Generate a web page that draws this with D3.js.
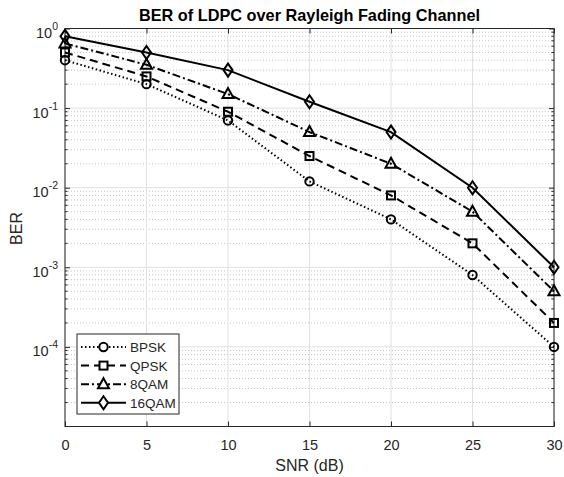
<!DOCTYPE html>
<html><head><meta charset="utf-8">
<script src="https://cdn.jsdelivr.net/npm/d3@7"></script>
<style>body{margin:0;background:#fff}svg{display:block}text{font-family:"Liberation Sans",Arial,Helvetica,sans-serif}</style>
</head><body><svg id="c" width="564" height="477"></svg>
<script>
const snr = [0, 5, 10, 15, 20, 25, 30];
const bpsk = [0.4, 0.2, 0.07, 0.012, 0.004, 0.0008, 0.0001];
const qpsk = [0.5, 0.25, 0.09, 0.025, 0.008, 0.002, 0.0002];
const qam8 = [0.65, 0.35, 0.15, 0.05, 0.02, 0.005, 0.0005];
const qam16 = [0.8, 0.5, 0.3, 0.12, 0.05, 0.01, 0.001];
const seriesNames = ["BPSK", "QPSK", "8QAM", "16QAM"];
const xTicks = [0, 5, 10, 15, 20, 25, 30];
const yTickExps = [0, -1, -2, -3, -4];

const series = [
  {name: seriesNames[0], vals: bpsk, dash: "1.5,2.5", marker: "circle"},
  {name: seriesNames[1], vals: qpsk, dash: "8,5", marker: "square"},
  {name: seriesNames[2], vals: qam8, dash: "8,3,2,3", marker: "triangle"},
  {name: seriesNames[3], vals: qam16, dash: null, marker: "diamond"}
];

const svg = d3.select("#c");
const L = 65, R = 554, T = 28.5, B = 426.5;
const x = d3.scaleLinear().domain([0, 30]).range([L, R]);
const y = d3.scaleLog().domain([1e-5, 1]).range([B, T]);
const axisCol = "#262626";

// minor grid
const minors = [];
for (let e = -5; e < 0; e++) for (let m = 2; m <= 9; m++) minors.push(m * Math.pow(10, e));
svg.append("g").selectAll("line").data(minors).join("line")
  .attr("x1", L).attr("x2", R).attr("y1", d => y(d)).attr("y2", d => y(d))
  .attr("stroke", "#c4c4c4").attr("stroke-width", 1).attr("stroke-dasharray", "1,2");
// major grid
svg.append("g").selectAll("line").data(yTickExps.map(e => Math.pow(10, e)).concat([1e-5])).join("line")
  .attr("x1", L).attr("x2", R).attr("y1", d => y(d)).attr("y2", d => y(d))
  .attr("stroke", "#e0e0e0").attr("stroke-width", 1);
svg.append("g").selectAll("line").data(xTicks).join("line")
  .attr("x1", d => x(d)).attr("x2", d => x(d)).attr("y1", T).attr("y2", B)
  .attr("stroke", "#e0e0e0").attr("stroke-width", 1);

// axes
const xAxis = d3.axisBottom(x).tickValues(xTicks).tickSize(-5).tickPadding(13).tickFormat(d3.format("d"));
const gx = svg.append("g").attr("transform", `translate(0,${B})`).call(xAxis);
gx.select(".domain").remove();
gx.selectAll("line").attr("stroke", axisCol);
gx.selectAll("text").attr("fill", axisCol).attr("font-size", 14.5);
const xAxisTop = d3.axisTop(x).tickValues(xTicks).tickSize(-5).tickFormat("");
const gxt = svg.append("g").attr("transform", `translate(0,${T})`).call(xAxisTop);
gxt.select(".domain").remove(); gxt.selectAll("line").attr("stroke", axisCol);

const yAxis = d3.axisLeft(y).tickValues(yTickExps.map(e => Math.pow(10, e))).tickSize(-5).tickFormat("");
const gy = svg.append("g").attr("transform", `translate(${L},0)`).call(yAxis);
gy.select(".domain").remove(); gy.selectAll("line").attr("stroke", axisCol);
const yAxisR = d3.axisRight(y).tickValues(yTickExps.map(e => Math.pow(10, e))).tickSize(-5).tickFormat("");
const gyr = svg.append("g").attr("transform", `translate(${R},0)`).call(yAxisR);
gyr.select(".domain").remove(); gyr.selectAll("line").attr("stroke", axisCol);
// minor ticks
svg.append("g").selectAll("line").data(minors).join("line")
  .attr("x1", L).attr("x2", L + 2.5).attr("y1", d => y(d)).attr("y2", d => y(d)).attr("stroke", axisCol);
svg.append("g").selectAll("line").data(minors).join("line")
  .attr("x1", R).attr("x2", R - 2.5).attr("y1", d => y(d)).attr("y2", d => y(d)).attr("stroke", axisCol);

// y tick labels with superscripts
const yl = svg.append("g").selectAll("text").data(yTickExps).join("text")
  .attr("x", L - 7).attr("y", d => y(Math.pow(10, d)) + 9.5)
  .attr("text-anchor", "end").attr("fill", axisCol).attr("font-size", 14.5);
yl.append("tspan").text("10");
yl.append("tspan").attr("dy", -8).attr("font-size", 10.5).text(d => String(d));

// box
svg.append("rect").attr("x", L).attr("y", T).attr("width", R - L).attr("height", B - T)
  .attr("fill", "none").attr("stroke", axisCol).attr("stroke-width", 1);

// markers
function drawMarker(g, type, cx, cy) {
  if (type === "circle") g.append("circle").attr("cx", cx).attr("cy", cy).attr("r", 4.2);
  else if (type === "square") g.append("rect").attr("x", cx - 4).attr("y", cy - 4).attr("width", 8).attr("height", 8);
  else if (type === "triangle") g.append("path").attr("d", `M${cx},${cy - 6}L${cx + 5.5},${cy + 4}L${cx - 5.5},${cy + 4}Z`);
  else g.append("path").attr("d", `M${cx},${cy - 6.5}L${cx + 4.5},${cy}L${cx},${cy + 6.5}L${cx - 4.5},${cy}Z`);
}

const line = d3.line().x((d, i) => x(snr[i])).y(d => y(d));
series.forEach(s => {
  svg.append("path").attr("d", line(s.vals)).attr("fill", "none").attr("stroke", "#000")
    .attr("stroke-width", 2).attr("stroke-dasharray", s.dash);
  const mg = svg.append("g").attr("fill", "none").attr("stroke", "#000").attr("stroke-width", 2);
  s.vals.forEach((v, i) => drawMarker(mg, s.marker, x(snr[i]), y(v)));
});

// title & labels
svg.append("text").attr("x", (L + R) / 2).attr("y", 21).attr("text-anchor", "middle")
  .attr("font-size", 16.3).attr("font-weight", "bold").attr("fill", "#000")
  .text("BER of LDPC over Rayleigh Fading Channel");
svg.append("text").attr("x", (L + R) / 2).attr("y", 471).attr("text-anchor", "middle")
  .attr("font-size", 16).attr("fill", axisCol).text("SNR (dB)");
svg.append("text").attr("transform", `translate(22,228.5) rotate(-90)`).attr("text-anchor", "middle")
  .attr("font-size", 16).attr("fill", axisCol).text("BER");

// legend
const lg = svg.append("g");
lg.append("rect").attr("x", 77).attr("y", 334).attr("width", 102).attr("height", 80)
  .attr("fill", "#fff").attr("stroke", axisCol).attr("stroke-width", 1);
series.forEach((s, i) => {
  const yy = 347 + i * 18.6;
  lg.append("line").attr("x1", 81).attr("x2", 126).attr("y1", yy).attr("y2", yy)
    .attr("stroke", "#000").attr("stroke-width", 2).attr("stroke-dasharray", s.dash);
  const mg = lg.append("g").attr("fill", "#fff").attr("stroke", "#000").attr("stroke-width", 2);
  drawMarker(mg, s.marker, 103.5, yy);
  lg.append("text").attr("x", 130).attr("y", yy + 5).attr("font-size", 13.5).attr("fill", axisCol).text(s.name);
});
</script></body></html>
